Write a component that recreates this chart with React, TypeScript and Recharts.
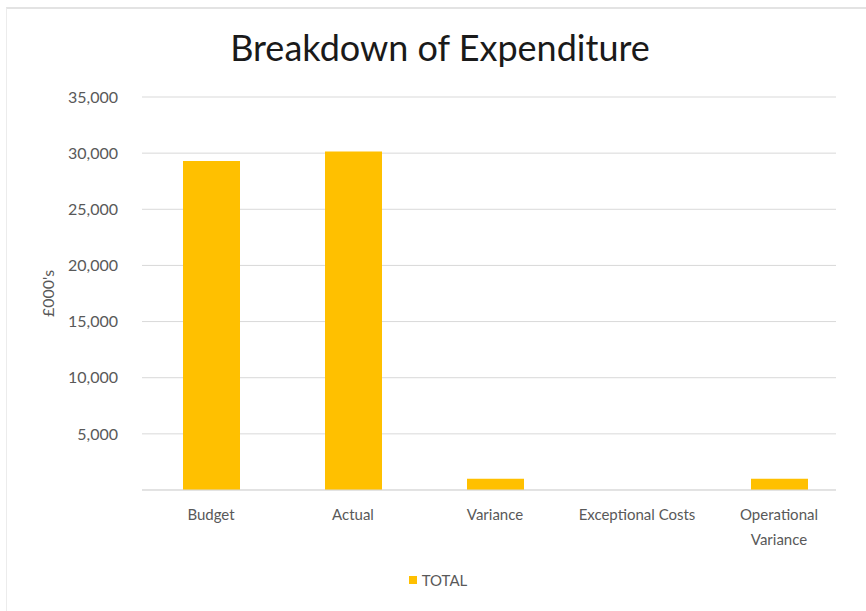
import React from 'react';
import { BarChart, Bar, XAxis, YAxis, CartesianGrid, Legend } from 'recharts';

const categories = ['Budget', 'Actual', 'Variance', 'Exceptional Costs', 'Operational\nVariance'];
const totals = [29300, 30150, 1000, 0, 1000];
const yTicks = [0, 5000, 10000, 15000, 20000, 25000, 30000, 35000];

const data = categories.map((name, i) => ({ name, TOTAL: totals[i] }));

const FONT = 'Lato, "Open Sans", sans-serif';
const GREY = '#595959';
const GOLD = '#FFC000';

const XTick = (props: any) => {
  const { x, y, payload } = props;
  const lines = String(payload.value).split('\n');
  return (
    <text x={x} y={y} textAnchor="middle" fill={GREY} fontSize={15} fontFamily={FONT}>
      {lines.map((l, i) => (
        <tspan key={i} x={x} dy={i === 0 ? 22 : 25}>{l}</tspan>
      ))}
    </text>
  );
};

const LegendBox = () => (
  <div style={{ display: 'flex', justifyContent: 'center', alignItems: 'center', paddingLeft: 40, fontFamily: FONT, fontSize: 15, color: GREY }}>
    <span style={{ display: 'inline-block', width: 8, height: 8, background: GOLD, marginRight: 5 }} />
    TOTAL
  </div>
);

export default function App() {
  return (
    <div style={{ position: 'absolute', left: 0, top: 0, width: 866, height: 611, background: '#fff' }}>
      {/* chart area frame */}
      <div style={{ position: 'absolute', left: 6, top: 7, right: 0, bottom: 0, borderTop: '2px solid #e3e3e3', borderLeft: '1px solid #ececec' }} />
      <div style={{ position: 'absolute', left: 0, top: 25, width: 880, textAlign: 'center', fontFamily: FONT, fontSize: 36, color: '#1a1a1a' }}>
        Breakdown of Expenditure
      </div>
      <div style={{ position: 'absolute', left: 0, top: 0 }}>
        <BarChart width={866} height={611} data={data} margin={{ top: 97, right: 30, left: 0, bottom: 23 }} barCategoryGap={0}>
          <CartesianGrid vertical={false} stroke="#d9d9d9" />
          <XAxis
            dataKey="name"
            tick={<XTick />}
            tickLine={false}
            axisLine={{ stroke: '#d9d9d9' }}
            height={80}
            interval={0}
            padding={{ left: -2, right: -14 }}
          />
          <YAxis
            width={142}
            domain={[0, 35000]}
            ticks={yTicks}
            axisLine={false}
            tickLine={false}
            tickSize={0}
            tickMargin={24}
            tick={{ fill: GREY, fontSize: 16, fontFamily: FONT }}
            tickFormatter={(v: number) => (v === 0 ? '' : v.toLocaleString('en-GB'))}
            label={{ value: "£000's", angle: -90, position: 'center', dx: -23, fill: GREY, fontSize: 16, fontFamily: FONT }}
          />
          <Legend verticalAlign="bottom" content={<LegendBox />} wrapperStyle={{ bottom: 22 }} />
          <Bar dataKey="TOTAL" fill={GOLD} barSize={57} isAnimationActive={false} />
        </BarChart>
      </div>
    </div>
  );
}
